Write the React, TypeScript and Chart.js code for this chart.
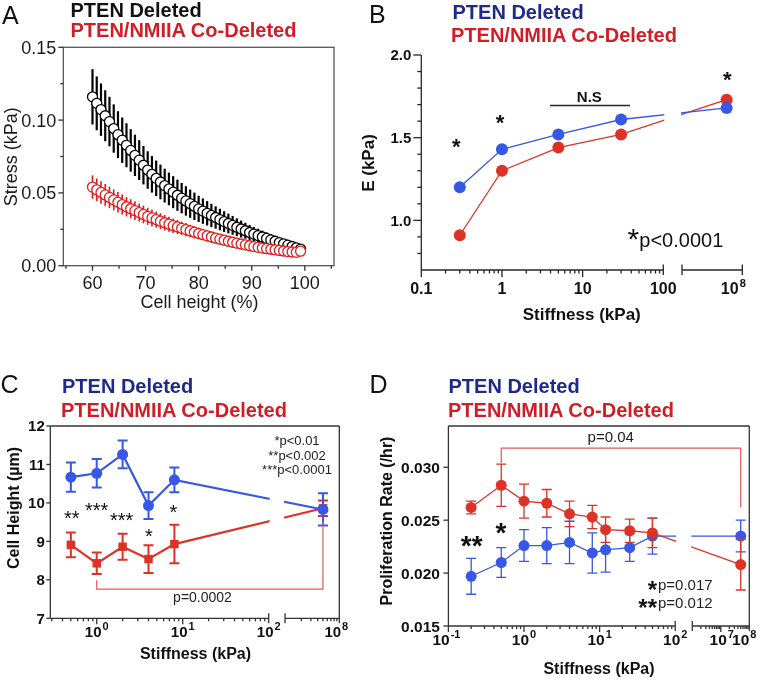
import React, { useEffect, useRef } from 'react';
import { Chart, registerables } from 'chart.js';

Chart.register(...registerables);

const FONT = '"Liberation Sans", Arial, Helvetica, sans-serif';
const W = 762;
const H = 681;

const BLUE = '#3757e6';
const RED = '#dd3327';
const A_RED = '#e01b1b';
const NAVY = '#1d2a8b';
const HEAD_RED = '#d01e26';
const BRACKET = '#e2585a';
const AXIS = '#262626';

// ---------------- Panel A: stress vs cell height ----------------
const cellHeightPct = [60.0, 60.8, 61.6, 62.4, 63.2, 64.0, 64.8, 65.6, 66.4, 67.2, 68.0, 68.8, 69.6, 70.4, 71.2, 72.0, 72.8, 73.6, 74.4, 75.2, 76.0, 76.8, 77.6, 78.4, 79.2, 80.0, 80.8, 81.6, 82.4, 83.2, 84.0, 84.8, 85.6, 86.4, 87.2, 88.0, 88.8, 89.6, 90.4, 91.2, 92.0, 92.8, 93.6, 94.4, 95.2, 96.0, 96.8, 97.6, 98.4, 99.2];
const stressPtenDeleted = [0.1160, 0.1115, 0.1072, 0.1030, 0.0990, 0.0942, 0.0900, 0.0862, 0.0827, 0.0792, 0.0758, 0.0725, 0.0690, 0.0657, 0.0628, 0.0600, 0.0575, 0.0550, 0.0527, 0.0505, 0.0484, 0.0464, 0.0445, 0.0426, 0.0408, 0.0390, 0.0375, 0.0360, 0.0345, 0.0331, 0.0317, 0.0303, 0.0290, 0.0277, 0.0264, 0.0252, 0.0240, 0.0228, 0.0217, 0.0207, 0.0197, 0.0187, 0.0177, 0.0168, 0.0159, 0.0150, 0.0141, 0.0132, 0.0123, 0.0114];
const stressPtenDeletedErr = [0.0190, 0.0185, 0.0180, 0.0175, 0.0170, 0.0166, 0.0161, 0.0156, 0.0151, 0.0146, 0.0142, 0.0137, 0.0132, 0.0129, 0.0126, 0.0122, 0.0119, 0.0116, 0.0112, 0.0110, 0.0107, 0.0104, 0.0101, 0.0097, 0.0094, 0.0090, 0.0087, 0.0084, 0.0080, 0.0077, 0.0074, 0.0071, 0.0068, 0.0065, 0.0061, 0.0058, 0.0055, 0.0052, 0.0049, 0.0047, 0.0044, 0.0042, 0.0040, 0.0037, 0.0035, 0.0032, 0.0029, 0.0026, 0.0023, 0.0020];
const stressCoDeleted = [0.0540, 0.0521, 0.0503, 0.0486, 0.0469, 0.0452, 0.0436, 0.0420, 0.0405, 0.0391, 0.0378, 0.0365, 0.0352, 0.0339, 0.0328, 0.0317, 0.0306, 0.0295, 0.0285, 0.0275, 0.0266, 0.0257, 0.0248, 0.0239, 0.0230, 0.0221, 0.0213, 0.0205, 0.0197, 0.0189, 0.0182, 0.0175, 0.0168, 0.0161, 0.0155, 0.0149, 0.0143, 0.0137, 0.0131, 0.0126, 0.0121, 0.0117, 0.0113, 0.0109, 0.0105, 0.0101, 0.0097, 0.0094, 0.0092, 0.0100];
const stressCoDeletedErr = [0.0080, 0.0078, 0.0077, 0.0075, 0.0074, 0.0072, 0.0070, 0.0069, 0.0067, 0.0066, 0.0064, 0.0062, 0.0061, 0.0059, 0.0058, 0.0056, 0.0054, 0.0053, 0.0051, 0.0050, 0.0048, 0.0046, 0.0045, 0.0043, 0.0042, 0.0040, 0.0039, 0.0038, 0.0037, 0.0036, 0.0035, 0.0034, 0.0033, 0.0032, 0.0031, 0.0030, 0.0029, 0.0028, 0.0027, 0.0026, 0.0026, 0.0025, 0.0024, 0.0023, 0.0022, 0.0021, 0.0020, 0.0020, 0.0019, 0.0018];
const stressTicks = [0, 0.05, 0.1, 0.15];
const stressTickLabels = ['0.00', '0.05', '0.10', '0.15'];
const heightTicks = [60, 70, 80, 90, 100];
const heightTickLabels = ['60', '70', '80', '90', '100'];

// ---------------- Panel B: modulus vs substrate stiffness ----------------
const stiffnessB = [0.3, 1, 5, 30, 5.5e7];
const modulusPtenDeleted = [1.2, 1.43, 1.52, 1.61, 1.68];
const modulusCoDeleted = [0.91, 1.3, 1.44, 1.52, 1.73];
const modulusTicks = [1.0, 1.5, 2.0];
const modulusTickLabels = ['1.0', '1.5', '2.0'];
const stiffnessTicksB = [0.1, 1, 10, 100];
const stiffnessTickLabelsB = ['0.1', '1', '10', '100'];

// ---------------- Panel C: cell height vs stiffness ----------------
const stiffnessC = [0.5, 1, 2, 4, 8, 5e7];
const cellHeightPtenDeleted = [10.67, 10.77, 11.26, 9.93, 10.6, 9.83];
const cellHeightPtenDeletedErr = [0.38, 0.37, 0.36, 0.35, 0.32, 0.42];
const cellHeightCoDeleted = [8.91, 8.43, 8.86, 8.54, 8.93, 9.86];
const cellHeightCoDeletedErr = [0.32, 0.28, 0.34, 0.36, 0.5, 0.2];
const cellHeightTicks = [7, 8, 9, 10, 11, 12];
const stiffnessExpC = ['0', '1', '2'];

// ---------------- Panel D: proliferation vs stiffness ----------------
const stiffnessD = [0.2, 0.5, 1, 2, 4, 8, 12, 25, 50, 5e7];
const prolifPtenDeleted = [0.0197, 0.021, 0.0226, 0.0226, 0.0229, 0.0219, 0.0222, 0.0224, 0.0235, 0.0235];
const prolifPtenDeletedErr = [0.0017, 0.0014, 0.0015, 0.0017, 0.002, 0.0019, 0.0021, 0.0013, 0.0017, 0.0015];
const prolifCoDeleted = [0.0262, 0.0283, 0.0268, 0.0266, 0.0256, 0.0253, 0.0241, 0.024, 0.0238, 0.0208];
const prolifCoDeletedErr = [0.0006, 0.002, 0.0016, 0.0013, 0.0012, 0.0011, 0.0012, 0.0011, 0.0014, 0.0024];
const prolifTicks = [0.015, 0.02, 0.025, 0.03];
const prolifTickLabels = ['0.015', '0.020', '0.025', '0.030'];
const stiffnessExpD = ['-1', '0', '1', '2'];

// broken log axis: decades below 100 kPa, then a gap, then a compressed high segment
type Brk = { gap: number; lo: number; k: number };
const BREAK_B: Brk = { gap: 0.232, lo: 7, k: 0.7475 };
const BREAK_C: Brk = { gap: 0.19, lo: 7, k: 0.631 };
const BREAK_D: Brk = { gap: 0.226, lo: 6, k: 0.377 };
const brk = (b: Brk) => (v: number) => {
  const l = Math.log10(v);
  return l <= 2 ? l : 2 + b.gap + (l - b.lo) * b.k;
};
const posB = brk(BREAK_B);
const posC = brk(BREAK_C);
const posD = brk(BREAK_D);

const pts = (xs: number[], ys: number[], t: (v: number) => number = (v) => v) =>
  xs.map((x, i) => ({ x: t(x), y: ys[i] }));

// ---------------- drawing helpers ----------------
function seg(ctx: CanvasRenderingContext2D, x1: number, y1: number, x2: number, y2: number) {
  ctx.beginPath();
  ctx.moveTo(x1, y1);
  ctx.lineTo(x2, y2);
  ctx.stroke();
}
function txt(ctx: CanvasRenderingContext2D, s: string, x: number, y: number, font: string, color: string, align: CanvasTextAlign = 'center') {
  ctx.font = font;
  ctx.fillStyle = color;
  ctx.textAlign = align;
  ctx.textBaseline = 'alphabetic';
  ctx.fillText(s, x, y);
}
function vtxt(ctx: CanvasRenderingContext2D, s: string, bx: number, cy: number, font: string, color: string) {
  ctx.save();
  ctx.translate(bx, cy);
  ctx.rotate(-Math.PI / 2);
  txt(ctx, s, 0, 0, font, color, 'center');
  ctx.restore();
}
function star(ctx: CanvasRenderingContext2D, s: string, cx: number, cy: number, size: number, bold: boolean, align: CanvasTextAlign = 'center') {
  txt(ctx, s, cx, cy + 0.585 * size, `${bold ? 'bold ' : ''}${size}px ${FONT}`, '#111', align);
}
function pow10(ctx: CanvasRenderingContext2D, exp: string, cx: number, by: number, size: number) {
  const base = `bold ${size}px ${FONT}`;
  const sup = `bold ${Math.round(size * 0.7)}px ${FONT}`;
  ctx.font = base;
  const w1 = ctx.measureText('10').width;
  ctx.font = sup;
  const w2 = ctx.measureText(exp).width;
  const left = cx - (w1 + w2 + 1) / 2;
  txt(ctx, '10', left, by, base, '#111', 'left');
  txt(ctx, exp, left + w1 + 1, by - size * 0.42, sup, '#111', 'left');
}

const errorBars = {
  id: 'errorBars',
  beforeDatasetDraw(chart: any, args: any) {
    const ds = chart.data.datasets[args.index];
    if (!ds.errors) return;
    const ys = chart.scales.y;
    const ctx = chart.ctx as CanvasRenderingContext2D;
    ctx.save();
    ctx.strokeStyle = ds.errorColor || ds.borderColor;
    ctx.lineWidth = ds.errorWidth || 1.5;
    const cw = ds.capHalf || 0;
    args.meta.data.forEach((p: any, i: number) => {
      const v = ds.data[i].y;
      const e = ds.errors[i];
      const y1 = ys.getPixelForValue(v + e);
      const y2 = ys.getPixelForValue(v - e);
      ctx.beginPath();
      ctx.moveTo(p.x, y1);
      ctx.lineTo(p.x, y2);
      if (cw) {
        ctx.moveTo(p.x - cw, y1);
        ctx.lineTo(p.x + cw, y1);
        ctx.moveTo(p.x - cw, y2);
        ctx.lineTo(p.x + cw, y2);
      }
      ctx.stroke();
    });
    ctx.restore();
  },
};

function baseOptions(xmin: number, xmax: number, ymin: number, ymax: number, area: [number, number, number, number]) {
  const [l, t, r, b] = area;
  return {
    responsive: false,
    animation: false,
    devicePixelRatio: 1,
    events: [],
    layout: { padding: { left: l, top: t, right: W - r, bottom: H - b } },
    plugins: { legend: { display: false }, tooltip: { enabled: false }, title: { display: false } },
    scales: {
      x: { type: 'linear', min: xmin, max: xmax, display: false },
      y: { type: 'linear', min: ymin, max: ymax, display: false },
    },
  } as any;
}

// ---------------- Panel A ----------------
function makeA(canvas: HTMLCanvasElement) {
  const panel = {
    id: 'panelA',
    afterDatasetsDraw(chart: any) {
      const { ctx, chartArea: a } = chart;
      const x = chart.scales.x, y = chart.scales.y;
      ctx.save();
      ctx.lineWidth = 1.3;
      ctx.strokeStyle = '#555';
      ctx.strokeRect(a.left, a.top, a.right - a.left, a.bottom - a.top);
      ctx.strokeStyle = '#333';
      stressTicks.forEach((v, i) => {
        const py = y.getPixelForValue(v);
        seg(ctx, a.left - 5, py, a.left, py);
        txt(ctx, stressTickLabels[i], a.left - 7, py + 6.4, `18px ${FONT}`, '#1a1a1a', 'right');
      });
      [0.025, 0.075, 0.125].forEach((v) => {
        const py = y.getPixelForValue(v);
        seg(ctx, a.left - 3, py, a.left, py);
      });
      heightTicks.forEach((v, i) => {
        const px = x.getPixelForValue(v);
        seg(ctx, px, a.bottom, px, a.bottom + 5);
        txt(ctx, heightTickLabels[i], px, a.bottom + 23.5, `18px ${FONT}`, '#1a1a1a');
      });
      [55, 65, 75, 85, 95, 105].forEach((v) => {
        const px = x.getPixelForValue(v);
        seg(ctx, px, a.bottom, px, a.bottom + 3);
      });
      txt(ctx, 'Cell height (%)', 199.5, 308, `18px ${FONT}`, '#1a1a1a');
      vtxt(ctx, 'Stress (kPa)', 16.5, 156.7, `18px ${FONT}`, '#1a1a1a');
      ctx.restore();
    },
  };
  return new Chart(canvas, {
    type: 'scatter',
    data: {
      datasets: [
        {
          data: pts(cellHeightPct, stressCoDeleted),
          showLine: false,
          pointRadius: 5,
          pointBackgroundColor: '#fff',
          pointBorderColor: A_RED,
          pointBorderWidth: 1.3,
          borderColor: A_RED,
          errors: stressCoDeletedErr,
          errorWidth: 1.6,
          clip: false,
        },
        {
          data: pts(cellHeightPct, stressPtenDeleted),
          showLine: false,
          pointRadius: 5,
          pointBackgroundColor: '#fff',
          pointBorderColor: '#000',
          pointBorderWidth: 1.3,
          borderColor: '#000',
          errors: stressPtenDeletedErr,
          errorWidth: 2.2,
          clip: false,
        },
      ] as any,
    },
    options: baseOptions(54.5, 105.5, 0, 0.15, [63.3, 47.3, 334, 265.7]),
    plugins: [errorBars, panel],
  });
}

// ---------------- Panel B ----------------
function makeB(canvas: HTMLCanvasElement) {
  const panel = {
    id: 'panelB',
    afterDatasetsDraw(chart: any) {
      const { ctx, chartArea: a } = chart;
      const x = chart.scales.x, y = chart.scales.y;
      const bx1 = x.getPixelForValue(2), bx2 = x.getPixelForValue(2 + BREAK_B.gap);
      ctx.save();
      ctx.fillStyle = '#fff';
      ctx.fillRect(bx1 + 1, a.top - 5, bx2 - bx1 - 2, a.bottom - a.top + 3);
      ctx.strokeStyle = AXIS;
      ctx.lineWidth = 1.3;
      seg(ctx, a.left, a.top, a.left, a.bottom);
      seg(ctx, a.left, a.bottom, bx1, a.bottom);
      seg(ctx, bx2, a.bottom, a.right, a.bottom);
      [bx1, bx2, a.right].forEach((bx) => seg(ctx, bx, a.bottom - 5.5, bx, a.bottom + 5));
      for (let i = 8; i <= 20; i++) {
        const py = y.getPixelForValue(i / 10);
        const len = i % 5 === 0 ? 8 : 4;
        seg(ctx, a.left - len, py, a.left, py);
      }
      modulusTicks.forEach((v, i) =>
        txt(ctx, modulusTickLabels[i], a.left - 10, y.getPixelForValue(v) + 5.4, `bold 15px ${FONT}`, '#111', 'right'),
      );
      for (let d = -1; d <= 1; d++)
        for (let k = 2; k <= 9; k++) {
          const px = x.getPixelForValue(d + Math.log10(k));
          seg(ctx, px, a.bottom, px, a.bottom + 3.5);
        }
      stiffnessTicksB.forEach((v, i) => {
        const px = x.getPixelForValue(posB(v));
        if (i < 3) seg(ctx, px, a.bottom, px, a.bottom + 7);
        txt(ctx, stiffnessTickLabelsB[i], px, a.bottom + 23.5, `bold 16px ${FONT}`, '#111');
      });
      pow10(ctx, '8', a.right - 9, a.bottom + 23.5, 16);
      txt(ctx, 'Stiffness (kPa)', 581.7, 320, `bold 17px ${FONT}`, '#111');
      vtxt(ctx, 'E (kPa)', 374, 163, `bold 17px ${FONT}`, '#111');
      // significance marks
      star(ctx, '*', 456.3, 141, 22, true);
      star(ctx, '*', 500, 117.5, 22, true);
      star(ctx, '*', 727.3, 74, 22, true);
      txt(ctx, 'N.S', 589.3, 101.7, `bold 15px ${FONT}`, '#111');
      ctx.lineWidth = 1.3;
      seg(ctx, 550, 105.5, 630, 105.5);
      star(ctx, '*', 633.3, 231.7, 30, false);
      txt(ctx, 'p<0.0001', 639.3, 246.7, `20px ${FONT}`, '#111', 'left');
      ctx.restore();
    },
  };
  return new Chart(canvas, {
    type: 'scatter',
    data: {
      datasets: [
        {
          data: pts(stiffnessB, modulusPtenDeleted, posB),
          showLine: true,
          borderColor: BLUE,
          borderWidth: 1.3,
          backgroundColor: BLUE,
          pointRadius: 6,
          pointBackgroundColor: BLUE,
          pointBorderColor: BLUE,
          pointBorderWidth: 0,
          tension: 0,
          clip: false,
        },
        {
          data: pts(stiffnessB, modulusCoDeleted, posB),
          showLine: true,
          borderColor: RED,
          borderWidth: 1.3,
          backgroundColor: RED,
          pointRadius: 6,
          pointBackgroundColor: RED,
          pointBorderColor: RED,
          pointBorderWidth: 0,
          tension: 0,
          clip: false,
        },
      ] as any,
    },
    options: baseOptions(-1, 2 + BREAK_B.gap + BREAK_B.k, 0.7, 2.0, [421.3, 55, 742.3, 270]),
    plugins: [errorBars, panel],
  });
}

// ---------------- Panel C ----------------
function makeC(canvas: HTMLCanvasElement) {
  const panel = {
    id: 'panelC',
    afterDatasetsDraw(chart: any) {
      const { ctx, chartArea: a } = chart;
      const x = chart.scales.x, y = chart.scales.y;
      const bx1 = x.getPixelForValue(2), bx2 = x.getPixelForValue(2 + BREAK_C.gap);
      ctx.save();
      ctx.fillStyle = '#fff';
      ctx.fillRect(bx1 + 1, a.top + 1, bx2 - bx1 - 2, a.bottom - a.top - 1);
      // bracket
      ctx.strokeStyle = BRACKET;
      ctx.lineWidth = 1.2;
      const L = x.getPixelForValue(posC(1)), R = x.getPixelForValue(posC(5e7));
      const yb = y.getPixelForValue(7.76);
      ctx.beginPath();
      ctx.moveTo(L, y.getPixelForValue(7.99));
      ctx.lineTo(L, yb);
      ctx.lineTo(R, yb);
      ctx.lineTo(R, y.getPixelForValue(9.52));
      ctx.stroke();
      txt(ctx, 'p=0.0002', 202.5, 602, `14px ${FONT}`, '#222');
      // frame
      ctx.strokeStyle = '#333';
      ctx.lineWidth = 1.3;
      seg(ctx, a.left, a.top, a.right, a.top);
      seg(ctx, a.left, a.top, a.left, a.bottom);
      seg(ctx, a.right, a.top, a.right, a.bottom + 5);
      seg(ctx, a.left, a.bottom, bx1, a.bottom);
      seg(ctx, bx2, a.bottom, a.right, a.bottom);
      [bx1, bx2].forEach((bx) => seg(ctx, bx, a.bottom - 5, bx, a.bottom + 5));
      cellHeightTicks.forEach((v) => {
        const py = y.getPixelForValue(v);
        seg(ctx, a.left - 4, py, a.left, py);
        txt(ctx, String(v), a.left - 5.5, py + 5.4, `bold 15px ${FONT}`, '#111', 'right');
      });
      for (let d = -1; d <= 1; d++)
        for (let k = 2; k <= 9; k++) {
          const p = d + Math.log10(k);
          if (p < x.min) continue;
          const px = x.getPixelForValue(p);
          seg(ctx, px, a.bottom, px, a.bottom + 3);
        }
      for (let k = 2; k <= 9; k++) {
        const px = x.getPixelForValue(posC(k * 1e7));
        seg(ctx, px, a.bottom, px, a.bottom + 3);
      }
      stiffnessExpC.forEach((e) => {
        const px = x.getPixelForValue(Number(e));
        if (e !== '2') seg(ctx, px, a.bottom, px, a.bottom + 6);
        pow10(ctx, e, px, a.bottom + 18.2, 15);
      });
      pow10(ctx, '8', a.right - 3, a.bottom + 18.2, 15);
      txt(ctx, 'Stiffness (kPa)', 195.5, 658.5, `bold 16px ${FONT}`, '#111');
      vtxt(ctx, 'Cell Height (µm)', 18.5, 508, `bold 16px ${FONT}`, '#111');
      // significance
      star(ctx, '**', 71.7, 513.3, 20, false);
      star(ctx, '***', 96.7, 505.7, 20, false);
      star(ctx, '***', 121.7, 515, 20, false);
      star(ctx, '*', 149, 531.7, 20, false);
      star(ctx, '*', 173.3, 507.3, 20, false);
      txt(ctx, '*p<0.01', 297, 444.6, `13px ${FONT}`, '#222');
      txt(ctx, '**p<0.002', 297, 459.6, `13px ${FONT}`, '#222');
      txt(ctx, '***p<0.0001', 297, 474.3, `13px ${FONT}`, '#222');
      ctx.restore();
    },
  };
  return new Chart(canvas, {
    type: 'scatter',
    data: {
      datasets: [
        {
          data: pts(stiffnessC, cellHeightPtenDeleted, posC),
          showLine: true,
          borderColor: BLUE,
          borderWidth: 2.2,
          pointRadius: 5.5,
          pointBackgroundColor: BLUE,
          pointBorderColor: BLUE,
          pointBorderWidth: 0,
          errors: cellHeightPtenDeletedErr,
          errorWidth: 2,
          capHalf: 5,
          tension: 0,
          clip: false,
        },
        {
          data: pts(stiffnessC, cellHeightCoDeleted, posC),
          showLine: true,
          borderColor: RED,
          borderWidth: 2.2,
          pointStyle: 'rect',
          pointRadius: 6,
          pointBackgroundColor: RED,
          pointBorderColor: RED,
          pointBorderWidth: 0,
          errors: cellHeightCoDeletedErr,
          errorWidth: 2,
          capHalf: 5,
          tension: 0,
          clip: false,
        },
      ] as any,
    },
    options: baseOptions(-0.54, 2 + BREAK_C.gap + BREAK_C.k, 7, 12, [50.3, 426, 339.3, 618.3]),
    plugins: [errorBars, panel],
  });
}

// ---------------- Panel D ----------------
function makeD(canvas: HTMLCanvasElement) {
  const panel = {
    id: 'panelD',
    afterDatasetsDraw(chart: any) {
      const { ctx, chartArea: a } = chart;
      const x = chart.scales.x, y = chart.scales.y;
      const bx1 = x.getPixelForValue(2), bx2 = x.getPixelForValue(2 + BREAK_D.gap);
      ctx.save();
      ctx.fillStyle = '#fff';
      ctx.fillRect(bx1 + 1, a.top + 1, bx2 - bx1 - 2, a.bottom - a.top - 1);
      // bracket
      ctx.strokeStyle = BRACKET;
      ctx.lineWidth = 1.2;
      const L = x.getPixelForValue(posD(0.5)), R = x.getPixelForValue(posD(5e7));
      const yt = y.getPixelForValue(0.0318);
      ctx.beginPath();
      ctx.moveTo(L, y.getPixelForValue(0.0304));
      ctx.lineTo(L, yt);
      ctx.lineTo(R, yt);
      ctx.lineTo(R, y.getPixelForValue(0.0262));
      ctx.stroke();
      txt(ctx, 'p=0.04', 610.7, 441.7, `15px ${FONT}`, '#222');
      // frame
      ctx.strokeStyle = '#333';
      ctx.lineWidth = 1.3;
      seg(ctx, a.left, a.top, a.right, a.top);
      seg(ctx, a.left, a.top, a.left, a.bottom);
      seg(ctx, a.right, a.top, a.right, a.bottom + 5);
      seg(ctx, a.left, a.bottom, bx1, a.bottom);
      seg(ctx, bx2, a.bottom, a.right, a.bottom);
      [bx1, bx2].forEach((bx) => seg(ctx, bx, a.bottom - 5, bx, a.bottom + 5));
      prolifTicks.forEach((v, i) => {
        const py = y.getPixelForValue(v);
        seg(ctx, a.left - 5, py, a.left, py);
        txt(ctx, prolifTickLabels[i], a.left - 8.5, py + 5.5, `bold 15.5px ${FONT}`, '#111', 'right');
      });
      for (let d = -1; d <= 1; d++)
        for (let k = 2; k <= 9; k++) {
          const px = x.getPixelForValue(d + Math.log10(k));
          seg(ctx, px, a.bottom, px, a.bottom + 3);
        }
      for (const dec of [1e6, 1e7])
        for (let k = 2; k <= 9; k++) {
          const px = x.getPixelForValue(posD(k * dec));
          seg(ctx, px, a.bottom, px, a.bottom + 3);
        }
      stiffnessExpD.forEach((e) => {
        const px = x.getPixelForValue(Number(e));
        if (e !== '2') seg(ctx, px, a.bottom, px, a.bottom + 6);
        pow10(ctx, e, e === '-1' ? px - 2 : px, a.bottom + 19, 15.5);
      });
      const p7 = x.getPixelForValue(posD(1e7));
      seg(ctx, p7, a.bottom, p7, a.bottom + 6);
      pow10(ctx, '7', p7 + 1, a.bottom + 19, 15.5);
      pow10(ctx, '8', a.right - 5, a.bottom + 19, 15.5);
      txt(ctx, 'Stiffness (kPa)', 599, 673.5, `bold 16px ${FONT}`, '#111');
      vtxt(ctx, 'Proliferation Rate (/hr)', 392, 521, `bold 16px ${FONT}`, '#111');
      // significance
      star(ctx, '**', 471.7, 538.3, 28, true);
      star(ctx, '*', 501, 526, 28, true);
      star(ctx, '*', 657, 584, 24, true, 'right');
      txt(ctx, 'p=0.017', 658, 590, `15px ${FONT}`, '#222', 'left');
      star(ctx, '**', 657, 602, 24, true, 'right');
      txt(ctx, 'p=0.012', 658, 607.5, `15px ${FONT}`, '#222', 'left');
      ctx.restore();
    },
  };
  return new Chart(canvas, {
    type: 'scatter',
    data: {
      datasets: [
        {
          data: pts(stiffnessD, prolifCoDeleted, posD),
          showLine: true,
          borderColor: RED,
          borderWidth: 1.3,
          pointRadius: 5.5,
          pointBackgroundColor: RED,
          pointBorderColor: RED,
          pointBorderWidth: 0,
          errors: prolifCoDeletedErr,
          errorWidth: 1.3,
          capHalf: 5,
          tension: 0,
          clip: false,
        },
        {
          data: pts(stiffnessD, prolifPtenDeleted, posD),
          showLine: true,
          borderColor: BLUE,
          borderWidth: 1.3,
          pointRadius: 5.5,
          pointBackgroundColor: BLUE,
          pointBorderColor: BLUE,
          pointBorderWidth: 0,
          errors: prolifPtenDeletedErr,
          errorWidth: 1.3,
          capHalf: 5,
          tension: 0,
          clip: false,
        },
      ] as any,
    },
    options: baseOptions(-1, 2 + BREAK_D.gap + 2 * BREAK_D.k, 0.015, 0.0339, [448.4, 426, 749.3, 626]),
    plugins: [errorBars, panel],
  });
}

type TProps = { x: number; baseline: number; size: number; bold?: boolean; color: string; children: React.ReactNode };
function Txt({ x, baseline, size, bold, color, children }: TProps) {
  return (
    <div
      style={{
        position: 'absolute',
        left: x,
        top: baseline - 0.8465 * size,
        fontFamily: FONT,
        fontSize: size,
        lineHeight: `${size}px`,
        fontWeight: bold ? 700 : 400,
        color,
        whiteSpace: 'nowrap',
      }}
    >
      {children}
    </div>
  );
}

export default function App() {
  const rA = useRef<HTMLCanvasElement>(null);
  const rB = useRef<HTMLCanvasElement>(null);
  const rC = useRef<HTMLCanvasElement>(null);
  const rD = useRef<HTMLCanvasElement>(null);

  useEffect(() => {
    const charts = [makeA(rA.current!), makeB(rB.current!), makeC(rC.current!), makeD(rD.current!)];
    return () => charts.forEach((c) => c.destroy());
  }, []);

  const cv = { position: 'absolute' as const, left: 0, top: 0, width: W, height: H };
  return (
    <div style={{ position: 'absolute', left: 0, top: 0, width: W, height: H, background: '#fff', overflow: 'hidden' }}>
      <canvas ref={rA} width={W} height={H} style={cv} />
      <canvas ref={rB} width={W} height={H} style={cv} />
      <canvas ref={rC} width={W} height={H} style={cv} />
      <canvas ref={rD} width={W} height={H} style={cv} />

      <Txt x={2} baseline={24} size={25} color="#111">A</Txt>
      <Txt x={70.5} baseline={16.5} size={20} bold color="#111">PTEN Deleted</Txt>
      <Txt x={70.5} baseline={36.5} size={20} bold color={HEAD_RED}>PTEN/NMIIA Co-Deleted</Txt>

      <Txt x={369} baseline={23.5} size={25} color="#111">B</Txt>
      <Txt x={452.5} baseline={19.3} size={20} bold color={NAVY}>PTEN Deleted</Txt>
      <Txt x={451} baseline={41.5} size={20} bold color={HEAD_RED}>PTEN/NMIIA Co-Deleted</Txt>

      <Txt x={0.5} baseline={393} size={25} color="#111">C</Txt>
      <Txt x={62} baseline={393.3} size={20} bold color={NAVY}>PTEN Deleted</Txt>
      <Txt x={61} baseline={417} size={20} bold color={HEAD_RED}>PTEN/NMIIA Co-Deleted</Txt>

      <Txt x={369.5} baseline={393} size={25} color="#111">D</Txt>
      <Txt x={448.5} baseline={393} size={20} bold color={NAVY}>PTEN Deleted</Txt>
      <Txt x={448} baseline={416.7} size={20} bold color={HEAD_RED}>PTEN/NMIIA Co-Deleted</Txt>
    </div>
  );
}
